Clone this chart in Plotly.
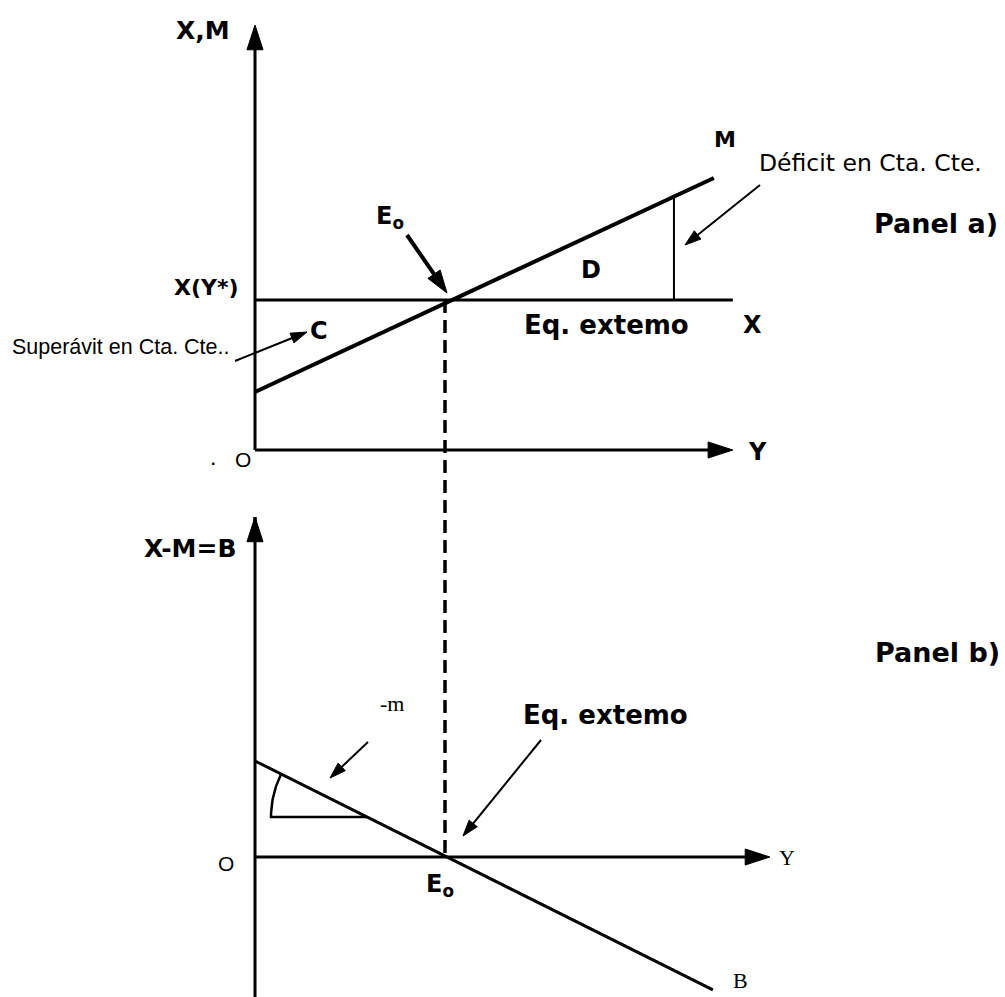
import numpy as np
import plotly.graph_objects as go

# ---------------- data (diagram units) ----------------
Y_EQ = 4.0                    # equilibrium income E0
X_LEVEL = 10.0                # exports X(Y*)
X_LINE_Y = [0.0, 10.06]       # export line extent
M_Y = [0.0, 9.66]             # import function M(Y)
M_VAL = [3.87, 18.13]
DEF_Y = 8.82                  # deficit segment position
DEF_TOP = 16.87
AXA_Y = [0.0, 10.06]          # panel a horizontal axis
AXA_V = [0.0, 28.33]          # panel a vertical axis
B_Y = [0.0, 9.64]             # trade balance B = X - M
B_VAL = [6.0, -8.31]
AXB_Y = [0.0, 10.84]          # panel b horizontal axis
AXB_V = [-8.75, 21.25]        # panel b vertical axis
ANG_B = 2.5                   # angle marker level
ANG_Y = [0.337, 2.358]        # angle marker horizontal extent

# ---------------- scales (layout) ----------------
W, H = 1005, 997
PX_X0, PX_PER_Y = 255.0, 47.5
PY_A0, PX_PER_A = 450.0, 15.0
PY_B0, PX_PER_B = 857.0, 16.0

xr = [-PX_X0 / PX_PER_Y, (W - PX_X0) / PX_PER_Y]
yra = [(PY_A0 - H) / PX_PER_A, PY_A0 / PX_PER_A]
yrb = [(PY_B0 - H) / PX_PER_B, PY_B0 / PX_PER_B]

def a_to_b(v):
    py = PY_A0 - v * PX_PER_A
    return (PY_B0 - py) / PX_PER_B

def px_x(px):
    return (px - PX_X0) / PX_PER_Y

def px_a(py):
    return (PY_A0 - py) / PX_PER_A

def px_b(py):
    return (PY_B0 - py) / PX_PER_B

BLACK = "#000000"
fig = go.Figure()

def seg(x, y, width=3, yaxis="y", dash=None, arrow=False, asize=24):
    mk = dict(size=[0, asize], symbol="arrow", angleref="previous",
              color=BLACK, opacity=1, line=dict(color=BLACK, width=1))
    fig.add_trace(go.Scatter(
        x=x, y=y, yaxis=yaxis, mode="lines+markers" if arrow else "lines",
        line=dict(color=BLACK, width=width, dash=dash),
        marker=mk if arrow else None, hoverinfo="skip", showlegend=False))

# panel a
seg([0, 0], AXA_V, 3, arrow=True, asize=26)
seg(AXA_Y, [0, 0], 3, arrow=True, asize=26)
seg(X_LINE_Y, [X_LEVEL, X_LEVEL], 3)
seg(M_Y, M_VAL, 4)
seg([DEF_Y, DEF_Y], [X_LEVEL, DEF_TOP], 2)
# dashed projection
seg([Y_EQ, Y_EQ], [a_to_b(X_LEVEL), 0], 3.5, yaxis="y2", dash="13px,7px")
# panel b
seg([0, 0], AXB_V, 3, yaxis="y2")
seg([0, 0], [AXB_V[1] - 1, AXB_V[1]], 3, yaxis="y2", arrow=True, asize=26)
seg(AXB_Y, [0, 0], 3, yaxis="y2", arrow=True, asize=26)
seg(B_Y, B_VAL, 3, yaxis="y2")
# angle marker (circular in pixels, centred on the B-line crossing)
r_px = (ANG_Y[1] - ANG_Y[0]) * PX_PER_Y
th = np.linspace(np.pi - np.arctan(0.5), np.pi, 30)
arc_x = list(ANG_Y[1] + r_px * np.cos(th) / PX_PER_Y) + [ANG_Y[1]]
arc_y = list(ANG_B + r_px * np.sin(th) / PX_PER_B) + [ANG_B]
seg(arc_x, arc_y, 2.5, yaxis="y2")

# pointer arrows (layout positions in pixels: tail -> tip)
pointers_a = [
    ((407, 235), (447, 293), 4, 24),
    ((235, 361), (307, 332), 2, 17),
    ((760, 185), (685, 245), 2, 17),
]
pointers_b = [
    ((368, 742), (330, 778), 2, 17),
    ((541, 740), (463, 836), 2, 17),
]
for (x0, y0), (x1, y1), w, s in pointers_a:
    seg([px_x(x0), px_x(x1)], [px_a(y0), px_a(y1)], w, arrow=True, asize=s)
for (x0, y0), (x1, y1), w, s in pointers_b:
    seg([px_x(x0), px_x(x1)], [px_b(y0), px_b(y1)], w, yaxis="y2",
        arrow=True, asize=s)

# ---------------- annotations ----------------
def P(px, py):
    return px / W, 1 - py / H

SANS = "DejaVu Sans"
labels = [
    ("<b>X,M</b>", 203, 30, 25, SANS),
    ("<b>X(Y*)</b>", 206, 287, 22, SANS),
    ("Superávit en Cta. Cte..", 121, 347, 21.5, "Liberation Sans"),
    ("<b>C</b>", 319, 331, 24, SANS),
    ("<b>E<sub>o</sub></b>", 390, 218, 24, SANS),
    ("<b>M</b>", 725, 140, 22, SANS),
    ("Déficit en Cta. Cte.", 870, 163, 23.5, SANS),
    ("<b>Panel a)</b>", 936, 224, 27, SANS),
    ("<b>D</b>", 591, 270, 24, SANS),
    ("<b>Eq. extemo</b>", 606, 325, 26, SANS),
    ("<b>X</b>", 752, 325, 24, SANS),
    ("O", 243, 459, 21, "Liberation Sans"),
    ("<b>.</b>", 213, 460, 16, "Liberation Sans"),
    ("<b>Y</b>", 757, 452, 24, SANS),
    ("<b>X-M=B</b>", 190, 548, 25, SANS),
    ("<b>Panel b)</b>", 937, 652, 27, SANS),
    ("-m", 392, 703, 22, "Liberation Serif"),
    ("<b>Eq. extemo</b>", 605, 715, 26, SANS),
    ("O", 226, 863, 21, "Liberation Sans"),
    ("Y", 787, 857, 22, "Liberation Serif"),
    ("<b>E<sub>o</sub></b>", 440, 885, 24, SANS),
    ("B", 740, 980, 22, "Liberation Serif"),
]
anns = []
for t, px, py, s, fam in labels:
    x, y = P(px, py)
    anns.append(dict(text=t, x=x, y=y, xref="paper", yref="paper",
                     xanchor="center", yanchor="middle", showarrow=False,
                     font=dict(size=s, family=fam, color=BLACK)))

fig.update_layout(
    width=W, height=H, margin=dict(l=0, r=0, t=0, b=0),
    paper_bgcolor="white", plot_bgcolor="white", showlegend=False,
    xaxis=dict(range=xr, visible=False, domain=[0, 1]),
    yaxis=dict(range=yra, visible=False, domain=[0, 1]),
    yaxis2=dict(range=yrb, visible=False, overlaying="y", anchor="x"),
    annotations=anns,
)

fig.write_html("out.html", config={"displayModeBar": False},
               post_script="document.body.style.margin='0px';")
